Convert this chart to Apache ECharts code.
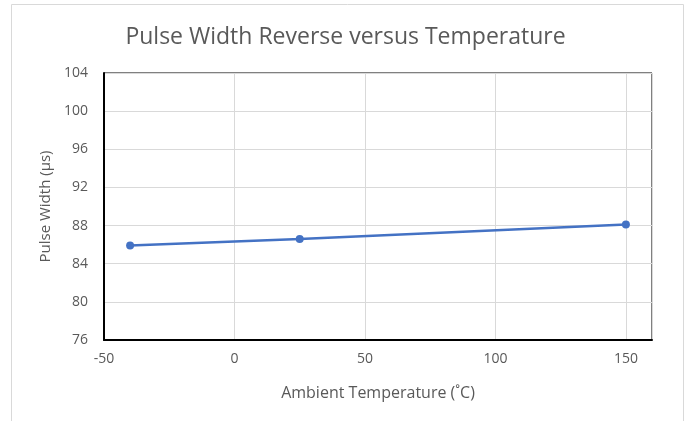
<!DOCTYPE html>
<html>
<head>
<meta charset="utf-8">
<title>Pulse Width Reverse versus Temperature</title>
<script src="https://cdn.jsdelivr.net/npm/echarts@6/dist/echarts.min.js"></script>
<style>
    html, body { margin: 0; padding: 0; background: #fff; }
    #pulse_chart { width: 691px; height: 421px; }
</style>
</head>
<body>
<div id="pulse_chart"></div>
<script>

// Chart data
// ------------------------------

var temperatures = [-40, 25, 150];          // Ambient temperature (°C)
var pulseWidths = [85.9, 86.6, 88.1];       // Pulse width (µs)


// Setup chart
// ------------------------------

var PulseWidthChart = function() {

    var _pulseWidthChart = function() {
        if (typeof echarts == 'undefined') {
            console.warn('Warning - echarts.min.js is not loaded.');
            return;
        }

        var chart_element = document.getElementById('pulse_chart');
        if (!chart_element) return;

        var chart = echarts.init(chart_element);

        // Pair x and y values for a value/value line
        var points = temperatures.map(function(t, i) {
            return [t, pulseWidths[i]];
        });

        var labelColor = '#595959';
        var fontFamily = '"Open Sans", Lato, sans-serif';

        chart.setOption({
            animation: false,
            color: ['#4472C4'],
            textStyle: {
                fontFamily: fontFamily
            },

            // Outer chart border
            graphic: [{
                type: 'rect',
                shape: { x: 11.5, y: 4.5, width: 672, height: 440 },
                style: { fill: 'none', stroke: '#d9d9d9', lineWidth: 1 },
                silent: true
            }],

            title: {
                text: 'Pulse Width Reverse versus Temperature',
                left: 'center',
                top: 21,
                textStyle: {
                    color: labelColor,
                    fontSize: 23,
                    fontWeight: 'normal',
                    fontFamily: fontFamily
                }
            },

            grid: {
                left: 104,
                right: 39,
                top: 73,
                bottom: 81,
                show: true,
                borderColor: '#000',
                borderWidth: 1
            },

            xAxis: {
                type: 'value',
                min: -50,
                max: 160,
                interval: 50,
                name: 'Ambient Temperature (˚C)',
                nameLocation: 'middle',
                nameGap: 45,
                nameTextStyle: { color: labelColor, fontSize: 16 },
                axisLine: { onZero: false, lineStyle: { color: '#000', width: 2 } },
                axisTick: { show: false },
                axisLabel: {
                    color: labelColor,
                    fontSize: 14,
                    margin: 12,
                    showMaxLabel: false
                },
                splitLine: { lineStyle: { color: '#d9d9d9', width: 1 } }
            },

            yAxis: {
                type: 'value',
                min: 76,
                max: 104,
                interval: 4,
                name: 'Pulse Width (µs)',
                nameLocation: 'middle',
                nameGap: 50,
                nameTextStyle: { color: labelColor, fontSize: 15 },
                axisLine: { show: true, onZero: false, lineStyle: { color: '#000', width: 2 } },
                axisTick: { show: false },
                axisLabel: {
                    color: labelColor,
                    fontSize: 14,
                    margin: 16
                },
                splitLine: { lineStyle: { color: '#d9d9d9', width: 1 } }
            },

            series: [{
                name: 'Pulse Width',
                type: 'line',
                data: points,
                symbol: 'circle',
                symbolSize: 8,
                lineStyle: { width: 2.5 },
                itemStyle: { color: '#4472C4' }
            }]
        });
    };

    return {
        init: function() {
            _pulseWidthChart();
        }
    };
}();

document.addEventListener('DOMContentLoaded', function() {
    PulseWidthChart.init();
});
</script>
</body>
</html>
